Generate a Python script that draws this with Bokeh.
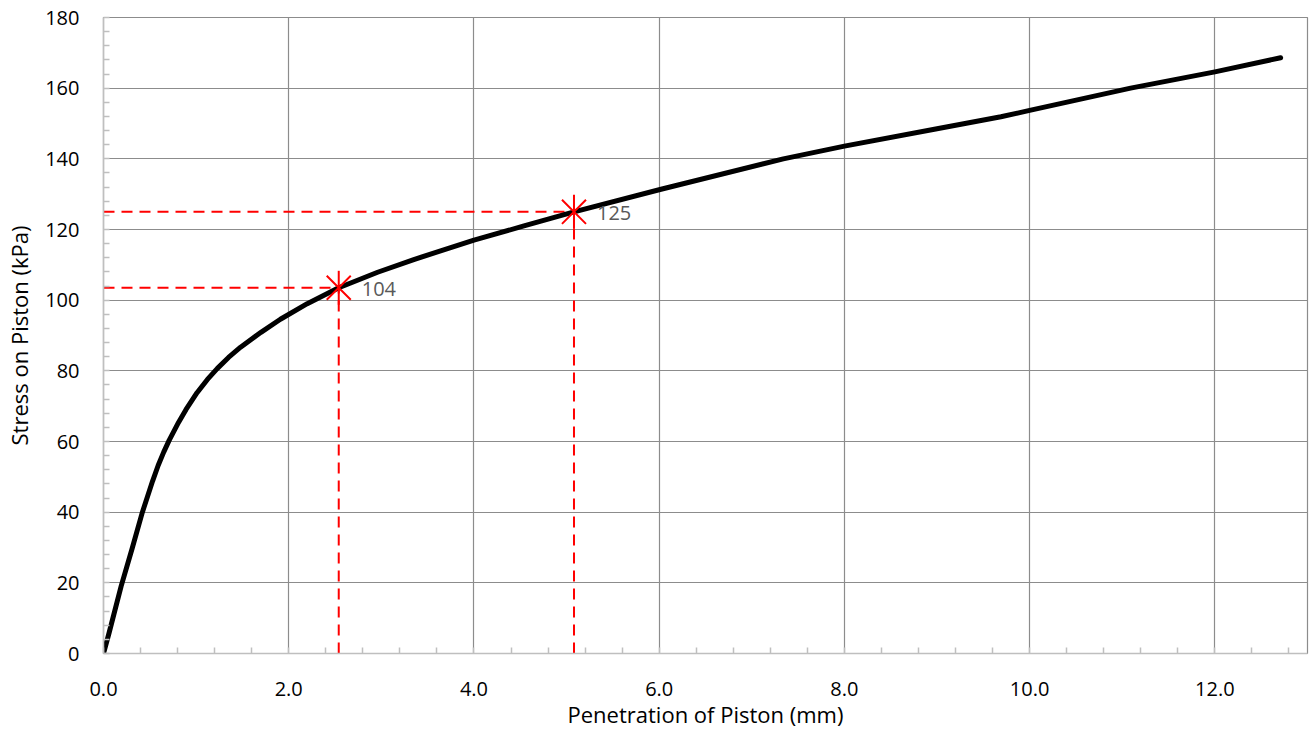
import math
from bokeh.plotting import figure
from bokeh.models import Range1d, FixedTicker, PrintfTickFormatter
from bokeh.embed import file_html
from bokeh.resources import INLINE
from bokeh.core.properties import value

# ---- data ----
pen_mm = [0.0, 0.06, 0.19, 0.31, 0.42, 0.53, 0.59, 0.65, 0.71, 0.81, 0.89, 1.01,
          1.12, 1.23, 1.35, 1.48, 1.70, 1.91, 2.20, 2.54, 2.96, 3.35, 4.00, 4.54,
          5.08, 6.02, 7.34, 8.00, 9.00, 9.69, 10.00, 11.09, 12.00, 12.71]
stress_kpa = [0.0, 5.8, 19.0, 29.8, 40.0, 48.8, 53.2, 57.0, 60.4, 65.4, 69.0, 73.8,
              77.5, 80.7, 83.8, 86.7, 90.9, 94.6, 99.0, 103.5, 107.9, 111.5, 117.0, 121.0,
              125.0, 131.4, 140.0, 143.6, 148.5, 151.9, 153.7, 160.0, 164.6, 168.6]

key_pen = [2.54, 5.08]
key_stress = [103.5, 125.0]
key_labels = ["104", "125"]

x_ticks = [0, 2, 4, 6, 8, 10, 12]
x_minor = [round(i * 0.4, 2) for i in range(0, 33)]
y_ticks = list(range(0, 181, 20))
y_minor = list(range(0, 181, 4))

FONT = "Open Sans"
GRID = "#8c8c8c"
AXIS = "#bfbfbf"

p = figure(width=1310, height=731, x_range=Range1d(0, 13), y_range=Range1d(0, 180),
           output_backend="svg", toolbar_location=None,
           min_border_left=103, min_border_right=3, min_border_top=17, min_border_bottom=76)

p.background_fill_color = "white"
p.border_fill_color = "white"
p.outline_line_color = GRID
p.outline_line_width = 1.2

p.xaxis.ticker = FixedTicker(ticks=x_ticks, minor_ticks=x_minor)
p.yaxis.ticker = FixedTicker(ticks=y_ticks, minor_ticks=y_minor)
p.xgrid.ticker = FixedTicker(ticks=x_ticks)
p.ygrid.ticker = FixedTicker(ticks=y_ticks)
p.xaxis.formatter = PrintfTickFormatter(format="%.1f")

for g in (p.xgrid, p.ygrid):
    g.grid_line_color = GRID
    g.grid_line_width = 1.2

for ax in (p.xaxis, p.yaxis):
    ax.axis_line_color = AXIS
    ax.axis_line_width = 1.5
    ax.major_tick_line_color = AXIS
    ax.major_tick_in = 0
    ax.major_tick_out = 0
    ax.minor_tick_line_color = AXIS
    ax.minor_tick_line_width = 1.5
    ax.minor_tick_in = 6
    ax.minor_tick_out = 0
    ax.major_label_text_font = FONT
    ax.major_label_text_font_size = "20px"
    ax.major_label_text_color = "#000000"
    ax.axis_label_text_font = FONT
    ax.axis_label_text_font_size = "22px"
    ax.axis_label_text_font_style = "normal"
    ax.axis_label_text_color = "#000000"

p.xaxis.axis_label = "Penetration of Piston (mm)"
p.yaxis.axis_label = "Stress on Piston (kPa)"
p.xaxis.major_label_standoff = 28
p.yaxis.major_label_standoff = 24
p.xaxis.axis_label_standoff = 0
p.yaxis.axis_label_standoff = 8

# dashed guide lines
p.segment(x0=[0] * len(key_pen), y0=key_stress, x1=key_pen, y1=key_stress,
          line_color="#ff0000", line_width=2, line_dash="11 7")
p.segment(x0=key_pen, y0=[0] * len(key_pen), x1=key_pen, y1=key_stress,
          line_color="#ff0000", line_width=2, line_dash="11 7")

# curve
p.line(pen_mm, stress_kpa, line_color="black", line_width=5, line_cap="round", line_join="round")

# star markers
p.scatter(key_pen, key_stress, marker="x", size=34, line_color="#ff0000", line_width=2)
p.scatter(key_pen, key_stress, marker="dash", angle=math.pi / 2, size=34,
          line_color="#ff0000", line_width=2)

p.text(x=key_pen, y=key_stress, text=key_labels, x_offset=23, y_offset=1,
       text_baseline="middle", text_align="left", text_font=value(FONT),
       text_font_size="20px", text_color="#595959")

open("out.html", "w").write(file_html(p, INLINE))
